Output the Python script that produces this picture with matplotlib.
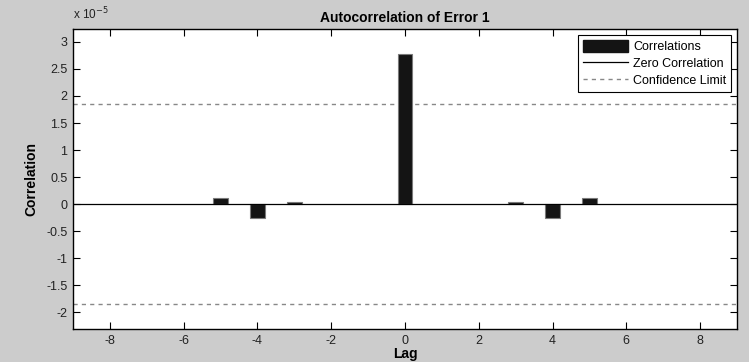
import matplotlib
matplotlib.use("Agg")
import matplotlib.pyplot as plt
from matplotlib.ticker import FuncFormatter, MultipleLocator
from matplotlib.patches import Rectangle
from matplotlib.lines import Line2D

plt.rcParams['font.family'] = ['Liberation Sans', 'DejaVu Sans']
plt.rcParams['axes.unicode_minus'] = False

lags = [-5, -4, -3, 0, 3, 4, 5]
correlations = [0.105e-5, -0.265e-5, 0.037e-5, 2.78e-5, 0.037e-5, -0.265e-5, 0.105e-5]
conf_limit = 1.85e-5
x_ticks = [-8, -6, -4, -2, 0, 2, 4, 6, 8]

fig = plt.figure(figsize=(7.49, 3.62), dpi=100, facecolor='#cccccc')
ax = fig.add_axes([0.0975, 0.0912, 0.8865, 0.8288])
ax.set_facecolor('white')

ax.bar(lags, correlations, width=0.4, color='#141414', edgecolor='#7a7a7a', linewidth=0.8, zorder=2)
ax.axhline(0, color='black', linewidth=0.9, zorder=3)
ax.axhline(conf_limit, color='#888888', linewidth=1.0, linestyle=(0, (3, 3)), zorder=1)
ax.axhline(-conf_limit, color='#888888', linewidth=1.0, linestyle=(0, (3, 3)), zorder=1)

ax.set_xlim(-9, 9)
ax.set_ylim(-2.31e-5, 3.24e-5)
ax.set_xticks(x_ticks)
ax.set_xticklabels([str(t) for t in x_ticks])
ax.yaxis.set_major_locator(MultipleLocator(0.5e-5))
ax.yaxis.set_major_formatter(FuncFormatter(lambda v, p: ('%g' % round(v / 1e-5, 2))))

ax.tick_params(direction='in', top=True, right=True, length=5, width=0.8,
               labelsize=9, colors='black', labelcolor='#222222', pad=4)
for s in ax.spines.values():
    s.set_linewidth(1.0)
    s.set_color('black')

fig.text(0.0975, 0.938, r'x 10$^{-5}$', fontsize=8.5, color='#222222', ha='left', va='bottom')
ax.set_title('Autocorrelation of Error 1', fontsize=10, fontweight='bold', pad=5)
ax.set_xlabel('Lag', fontsize=10, fontweight='bold', labelpad=0)
ax.set_ylabel('Correlation', fontsize=10, fontweight='bold', labelpad=6)

handles = [Rectangle((0, 0), 1, 1, facecolor='#141414', edgecolor='#141414'),
           Line2D([], [], color='black', linewidth=0.9),
           Line2D([], [], color='#888888', linewidth=1.0, linestyle=(0, (3, 3)))]
labels = ['Correlations', 'Zero Correlation', 'Confidence Limit']
leg = ax.legend(handles, labels, loc='upper right', fontsize=9, handlelength=3.6,
                handleheight=1.1, handletextpad=0.45, labelspacing=0.3, borderpad=0.4,
                borderaxespad=0.45, fancybox=False, framealpha=1, edgecolor='black')
leg.get_frame().set_linewidth(0.8)

fig.savefig('out.png', dpi=100, facecolor=fig.get_facecolor())
